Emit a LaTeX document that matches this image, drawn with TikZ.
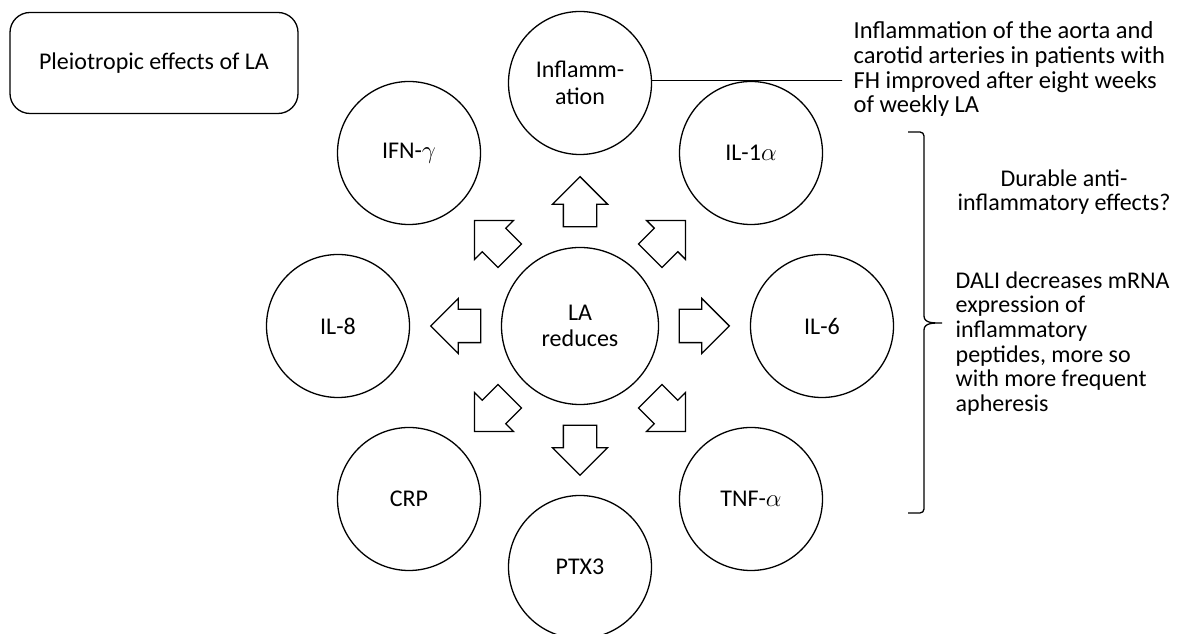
\documentclass[tikz,border=0pt]{standalone}
\usepackage{fontspec}
\setmainfont{Carlito}
\usetikzlibrary{shapes.arrows}

\begin{document}
\begin{tikzpicture}[x=1pt, y=1pt, line width=1.3pt,
    every node/.style={font=\fontsize{24}{26.5}\selectfont},
    bubble/.style={draw, circle, minimum size=143pt, inner sep=0pt, align=center},
    hub/.style={draw, circle, minimum size=157pt, inner sep=0pt, align=center},
    blockarrow/.style={draw, single arrow, minimum height=50pt, minimum width=54pt,
        single arrow head extend=11pt, single arrow head indent=0pt, inner xsep=0pt, inner ysep=16pt},
    sidenote/.style={inner sep=0pt, font=\fontsize{24}{24.6}\selectfont}]
    \useasboundingbox (0,0) rectangle (1181,634);

    % Title box
    \node[draw, rectangle, rounded corners=20pt, minimum width=288pt, minimum height=101pt] (title) at (154,571) {Pleiotropic effects of LA};

    % Center circle
    \node[hub] (la) at (580,308) {LA\\reduces};

    % Outer circles
    \node[bubble] (infl) at (580,551) {Inflamm-\\ation};
    \node[bubble] (ifn) at (409,481) {IFN-$\gamma$};
    \node[bubble] (ilone) at (751,481) {IL-1$\alpha$};
    \node[bubble] (ileight) at (338,308) {IL-8};
    \node[bubble] (ilsix) at (822,308) {IL-6};
    \node[bubble] (crp) at (409,135) {CRP};
    \node[bubble] (tnf) at (751,135) {TNF-$\alpha$};
    \node[bubble] (ptx) at (580,67) {PTX3};

    % Block arrows round the center
    \foreach \a in {0,45,...,315}
        \node[blockarrow, rotate=\a] (arr\a) at ([shift={(\a:116pt)}]la.center) {};

    % Note on inflammation
    \coordinate (lineend) at (842,553.5);
    \draw[line width=0.8pt] (infl.2) -- (lineend);
    \node[sidenote, anchor=north west, align=left, font=\fontsize{24.5}{24.7}\selectfont] (aorta) at (853,613) {Inflammation of the aorta and\\carotid arteries in patients with\\FH improved after eight weeks\\of weekly LA};

    % Bracket
    \draw (908,502) -- (920,502) to[out=0,in=90] (924,498) -- (924,318) to[out=-90,in=180] (942,311)
        to[out=180,in=90] (924,304) -- (924,125) to[out=-90,in=0] (920,121) -- (908,121);

    % Notes beside the bracket
    \node[sidenote, align=center] (durable) at (1064,442) {Durable anti-\\inflammatory effects?};
    \node[sidenote, anchor=north west, align=left] (dali) at (955,363) {DALI decreases mRNA\\expression of\\inflammatory\\peptides, more so\\with more frequent\\apheresis};
\end{tikzpicture}
\end{document}
